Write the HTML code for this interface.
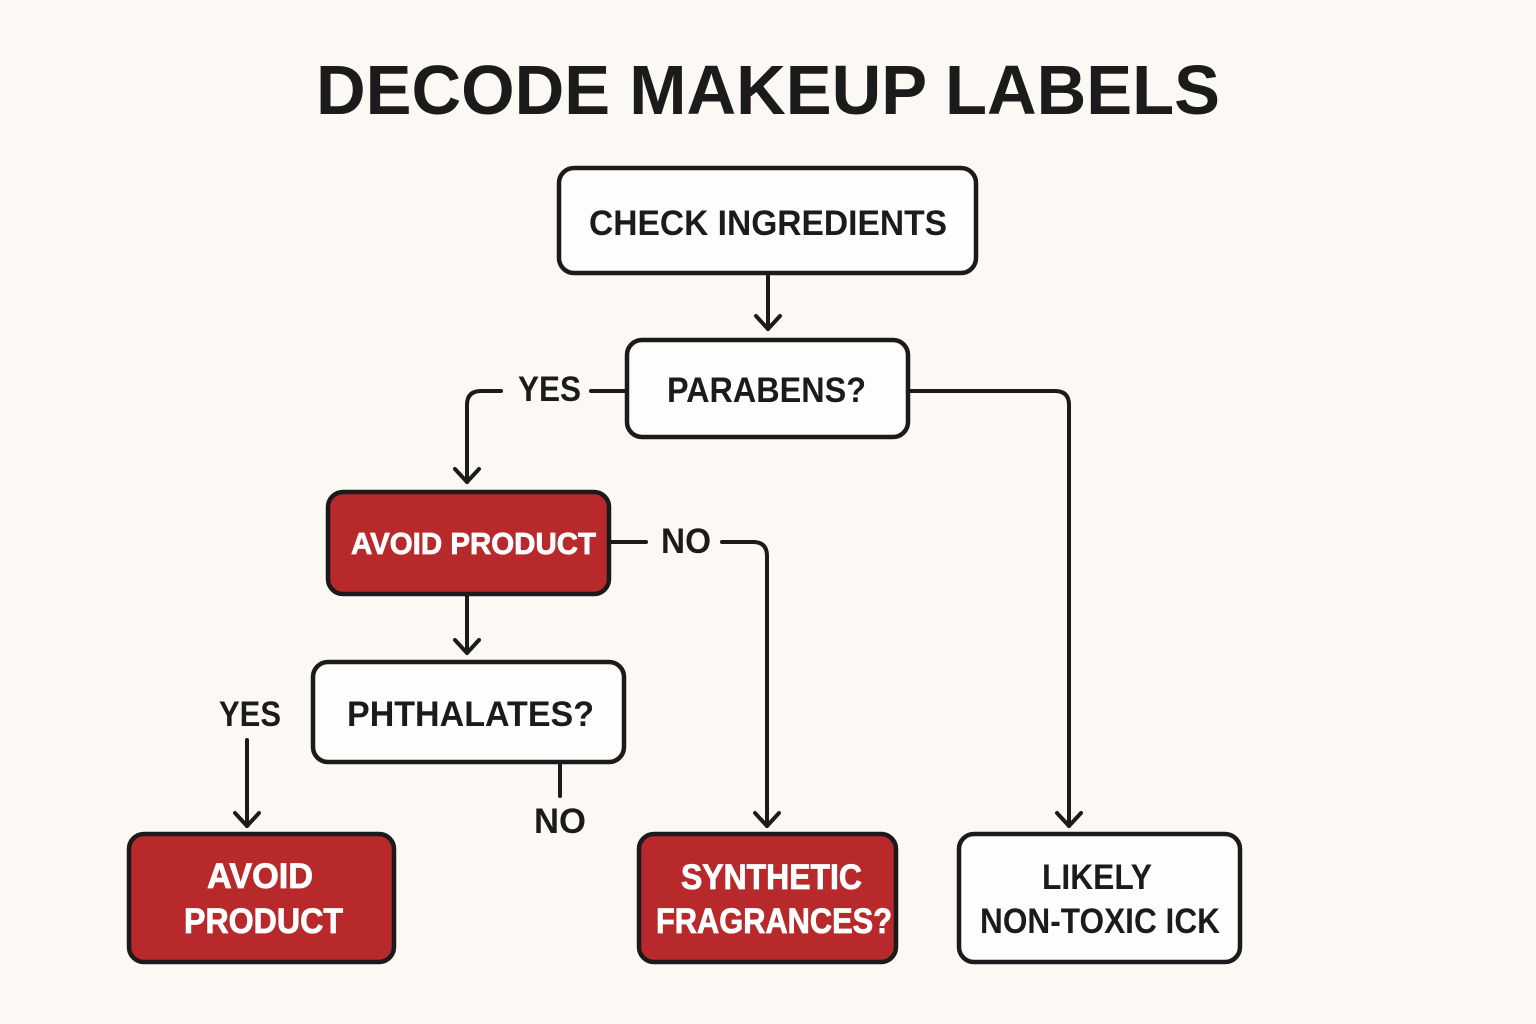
<!DOCTYPE html>
<html><head><meta charset="utf-8"><style>
html,body{margin:0;padding:0;background:#fcf9f4;}
svg{display:block;}
text{font-family:"Liberation Sans",Arial,sans-serif;font-weight:bold;}
</style></head><body>
<svg width="1536" height="1024" viewBox="0 0 1536 1024" xmlns="http://www.w3.org/2000/svg">
<rect width="1536" height="1024" fill="#fcf9f4"/>
<text x="316" y="114" font-size="70" fill="#1b1b1b" textLength="904" lengthAdjust="spacingAndGlyphs">DECODE MAKEUP LABELS</text>

<g fill="none" stroke="#1b1b1b" stroke-width="4" stroke-linecap="round" stroke-linejoin="round">
  <line x1="768" y1="273" x2="768" y2="329"/>
  <polyline points="756,316 768,329 780,316"/>
  <line x1="591" y1="391" x2="626" y2="391"/>
  <path d="M501,391 H481 Q467,391 467,405 V482"/>
  <polyline points="455,469 467,482 479,469"/>
  <path d="M909,391 H1055 Q1069,391 1069,405 V826"/>
  <polyline points="1057,813 1069,826 1081,813"/>
  <line x1="610" y1="542" x2="646" y2="542"/>
  <path d="M722,542 H753 Q767,542 767,556 V826"/>
  <polyline points="755,813 767,826 779,813"/>
  <line x1="467" y1="595" x2="467" y2="653"/>
  <polyline points="455,640 467,653 479,640"/>
  <line x1="247" y1="740" x2="247" y2="826"/>
  <polyline points="235,813 247,826 259,813"/>
  <line x1="560" y1="762" x2="560" y2="796"/>
</g>

<g stroke="#1b1b1b" stroke-width="4.5">
  <rect x="559" y="168" width="417" height="105" rx="15" fill="#fefdfb"/>
  <rect x="627" y="340" width="281" height="97" rx="15" fill="#fefdfb"/>
  <rect x="328" y="492" width="281" height="102" rx="15" fill="#b8292b"/>
  <rect x="313" y="662" width="311" height="100" rx="15" fill="#fefdfb"/>
  <rect x="129" y="834" width="265" height="128" rx="15" fill="#b8292b"/>
  <rect x="639" y="834" width="257" height="128" rx="15" fill="#b8292b"/>
  <rect x="959" y="834" width="281" height="128" rx="15" fill="#fefdfb"/>
</g>

<g fill="#1b1b1b" font-size="35">
  <text x="589" y="235" textLength="358" lengthAdjust="spacingAndGlyphs">CHECK INGREDIENTS</text>
  <text x="667" y="402" textLength="199" lengthAdjust="spacingAndGlyphs">PARABENS?</text>
  <text x="518" y="401" textLength="63" lengthAdjust="spacingAndGlyphs">YES</text>
  <text x="661" y="553" textLength="50" lengthAdjust="spacingAndGlyphs">NO</text>
  <text x="347" y="726" textLength="247" lengthAdjust="spacingAndGlyphs">PHTHALATES?</text>
  <text x="219" y="726" textLength="62" lengthAdjust="spacingAndGlyphs">YES</text>
  <text x="534" y="833" textLength="52" lengthAdjust="spacingAndGlyphs">NO</text>
  <text x="1042" y="889" textLength="110" lengthAdjust="spacingAndGlyphs">LIKELY</text>
  <text x="980" y="933" textLength="240" lengthAdjust="spacingAndGlyphs">NON-TOXIC ICK</text>
</g>
<g fill="#ffffff" font-size="35" stroke="#ffffff" stroke-width="0.8">
  <text x="351" y="554" font-size="31" textLength="245" lengthAdjust="spacingAndGlyphs">AVOID PRODUCT</text>
  <text x="207" y="888" textLength="106" lengthAdjust="spacingAndGlyphs">AVOID</text>
  <text x="184" y="933" textLength="159" lengthAdjust="spacingAndGlyphs">PRODUCT</text>
  <text x="681" y="889" textLength="181" lengthAdjust="spacingAndGlyphs">SYNTHETIC</text>
  <text x="656" y="933" textLength="236" lengthAdjust="spacingAndGlyphs">FRAGRANCES?</text>
</g>
</svg>
</body></html>
